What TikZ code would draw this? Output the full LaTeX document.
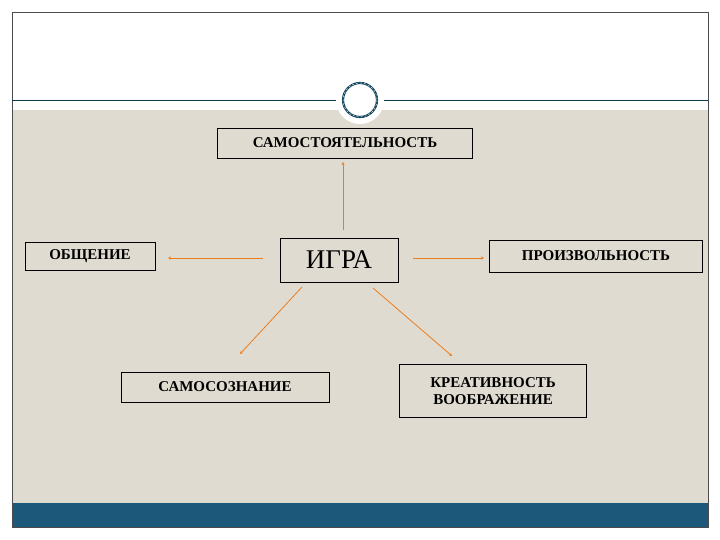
\documentclass[tikz,border=0pt]{standalone}
\usepackage{fontspec}
\setmainfont{Liberation Serif}
\usetikzlibrary{arrows.meta}
\definecolor{beige}{RGB}{224,219,208}
\definecolor{bar}{RGB}{27,88,122}
\definecolor{ring}{RGB}{22,72,96}
\definecolor{arr}{RGB}{234,125,30}
\begin{document}
\begin{tikzpicture}[x=1pt,y=-1pt,
  box/.style={draw=black,line width=0.9pt,fill=beige,font=\bfseries\fontsize{15}{17}\selectfont,inner sep=0pt,align=center},
  con/.style={draw=arr,line width=0.8pt,-{Stealth[length=3pt,width=3pt]}}]
\useasboundingbox (0,0) rectangle (720,540);
\fill[white] (0,0) rectangle (720,540);
\fill[beige] (12,110) rectangle (708,503);
\fill[bar] (12,503) rectangle (708,527);
\draw[black!70,line width=0.6pt] (12,12) rectangle (708,527);
\draw[ring!80!black,line width=0.8pt] (12,100) -- (708,100);
\fill[white] (360,100) circle (24);
\draw[ring,line width=2.2pt] (360,100) circle (17);
\draw[white,line width=0.4pt,dash pattern=on 2pt off 2pt] (360,100) circle (17);
\node[box,minimum width=255,minimum height=30] (samost) at (345,143) {САМОСТОЯТЕЛЬНОСТЬ};
\node[box,minimum width=130,minimum height=28] (obsh) at (90,256) {ОБЩЕНИЕ};
\node[box,minimum width=118,minimum height=44,font=\fontsize{27}{30}\selectfont] (igra) at (339,260) {ИГРА};
\node[box,minimum width=213,minimum height=32] (proiz) at (596,256) {ПРОИЗВОЛЬНОСТЬ};
\node[box,minimum width=208,minimum height=30] (samosoz) at (225,387) {САМОСОЗНАНИЕ};
\node[box,minimum width=187,minimum height=53] (kreat) at (493,391) {КРЕАТИВНОСТЬ\\ВООБРАЖЕНИЕ};
\coordinate (a1) at (343,230); \coordinate (b1) at (343,162);
\coordinate (a2) at (263,258); \coordinate (b2) at (168,258);
\coordinate (a3) at (413,258); \coordinate (b3) at (484,258);
\coordinate (a4) at (302,287); \coordinate (b4) at (240,354);
\coordinate (a5) at (373,288); \coordinate (b5) at (452,356);
\draw[con] (a1) -- (b1);
\draw[con] (a2) -- (b2);
\draw[con] (a3) -- (b3);
\draw[con] (a4) -- (b4);
\draw[con] (a5) -- (b5);
\end{tikzpicture}
\end{document}
